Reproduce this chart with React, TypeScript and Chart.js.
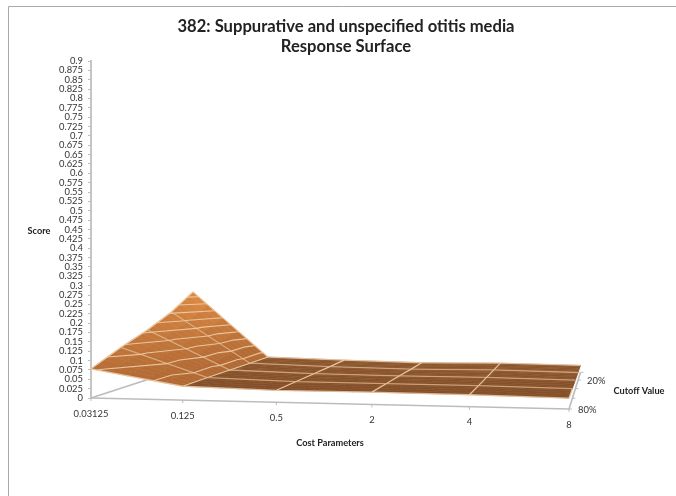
import React, { useEffect, useRef } from "react";
import { Chart, registerables } from "chart.js";

Chart.register(...registerables);

const titleLines = ["382: Suppurative and unspecified otitis media", "Response Surface"];
const costLabels = ["0.03125", "0.125", "0.5", "2", "4", "8"];
const cutoffLabels = ["80%", "", "", "20%", ""];
const cutoff80 = [0.078, 0.037, 0.032, 0.033, 0.032, 0.029];
const cutoff60 = [0.119, 0.037, 0.031, 0.031, 0.031, 0.028];
const cutoff40 = [0.157, 0.036, 0.03, 0.029, 0.03, 0.027];
const cutoff20 = [0.204, 0.035, 0.029, 0.026, 0.029, 0.026];
const cutoff0 = [0.2675, 0.034, 0.028, 0.024, 0.028, 0.0256];
const grid = [cutoff80, cutoff60, cutoff40, cutoff20, cutoff0];
const contourLevels = [0.05, 0.075, 0.1, 0.125, 0.15, 0.175, 0.2, 0.225, 0.25];

const FONT = "Lato, 'Open Sans', sans-serif";
const nI = costLabels.length - 1;
const nJ = grid.length - 1;

// Perspective floor of the 3D box, in data units of the x (0-5) and y (score) scales.
const c00 = [0, 0];
const c10 = [5, -0.0294];
const c01 = [1.067, 0.0885];
const hg = -0.05;
const hh = 0.235;
const ha = c10[0] * (1 + hg) - c00[0], hb = c01[0] * (1 + hh) - c00[0];
const hd = c10[1] * (1 + hg) - c00[1], he = c01[1] * (1 + hh) - c00[1];

function project(i: number, j: number, z: number) {
  const u = i / nI, v = j / nJ;
  const w = hg * u + hh * v + 1;
  const s = Math.pow((hg * u + 1) / w, 1.5);
  return {
    x: (ha * u + hb * v + c00[0]) / w,
    y: (hd * u + he * v + c00[1]) / w + z * s,
  };
}

function zAt(i: number, j: number) {
  const i0 = Math.min(Math.floor(i), nI - 1), j0 = Math.min(Math.floor(j), nJ - 1);
  const a = i - i0, b = j - j0;
  return (
    grid[j0][i0] * (1 - a) * (1 - b) +
    grid[j0][i0 + 1] * a * (1 - b) +
    grid[j0 + 1][i0] * (1 - a) * b +
    grid[j0 + 1][i0 + 1] * a * b
  );
}

function rowLine(j: number) {
  return grid[j].map((z, i) => project(i, j, z));
}
function colLine(i: number) {
  return grid.map((r, j) => project(i, j, r[i]));
}

function contourLine(level: number) {
  const pts: any[] = [];
  for (let j = 0; j < nJ; j++) {
    for (let i = 0; i < nI; i++) {
      const tris = [
        [[i, j], [i + 1, j], [i + 1, j + 1]],
        [[i, j], [i + 1, j + 1], [i, j + 1]],
      ];
      for (const t of tris) {
        const hits: number[][] = [];
        for (let k = 0; k < 3; k++) {
          const A = t[k], B = t[(k + 1) % 3];
          const za = grid[A[1]][A[0]], zb = grid[B[1]][B[0]];
          if ((za - level) * (zb - level) < 0) {
            const f = (level - za) / (zb - za);
            hits.push([A[0] + (B[0] - A[0]) * f, A[1] + (B[1] - A[1]) * f]);
          }
        }
        if (hits.length === 2) {
          pts.push(project(hits[0][0], hits[0][1], level));
          pts.push(project(hits[1][0], hits[1][1], level));
          pts.push({ x: NaN, y: NaN });
        }
      }
    }
  }
  return pts;
}

function mix(a: number[], b: number[], t: number) {
  const q = Math.max(0, Math.min(1, t));
  return `rgb(${a.map((v, k) => Math.round(v + (b[k] - v) * q)).join(",")})`;
}

const surfaceColor = (i: number, z: number, v: number) =>
  i < 1
    ? mix([178, 106, 52], [219, 137, 68], (z - 0.05) / 0.2)
    : mix([130, 78, 40], [140, 86, 44], v);

const surfacePlugin = {
  id: "surface",
  beforeDatasetsDraw(chart: any) {
    const { ctx, scales } = chart;
    const X = (p: any) => scales.x.getPixelForValue(p.x);
    const Y = (p: any) => scales.y.getPixelForValue(p.y);
    ctx.save();
    // floor edge on the left
    const a = project(0, 0, 0), b = project(0, nJ, 0);
    ctx.strokeStyle = "#bcbcbc";
    ctx.lineWidth = 1.6;
    ctx.beginPath();
    ctx.moveTo(X(a), Y(a));
    ctx.lineTo(X(b), Y(b));
    ctx.stroke();
    // filled mesh
    const N = 5;
    for (let j = nJ - 1; j >= 0; j--) {
      for (let i = 0; i < nI; i++) {
        for (let m = 0; m < N; m++) {
          for (let n = 0; n < N; n++) {
            const i0 = i + n / N, i1 = i + (n + 1) / N;
            const j0 = j + m / N, j1 = j + (m + 1) / N;
            const corners = [[i0, j0], [i1, j0], [i1, j1], [i0, j1]].map(([p, q]) =>
              project(p, q, zAt(p, q))
            );
            const col = surfaceColor(i, zAt((i0 + i1) / 2, (j0 + j1) / 2), (j0 + j1) / 2 / nJ);
            ctx.fillStyle = col;
            ctx.strokeStyle = col;
            ctx.lineWidth = 0.6;
            ctx.beginPath();
            corners.forEach((p, k) => (k ? ctx.lineTo(X(p), Y(p)) : ctx.moveTo(X(p), Y(p))));
            ctx.closePath();
            ctx.fill();
            ctx.stroke();
          }
        }
      }
    }
    ctx.restore();
  },
  afterDraw(chart: any) {
    const { ctx, scales, width, height } = chart;
    const X = (p: any) => scales.x.getPixelForValue(p.x);
    const Y = (p: any) => scales.y.getPixelForValue(p.y);
    ctx.save();
    // page frame
    ctx.strokeStyle = "#a8a8a8";
    ctx.lineWidth = 1;
    ctx.beginPath();
    ctx.moveTo(8.5, height);
    ctx.lineTo(8.5, 6.5);
    ctx.lineTo(width, 6.5);
    ctx.stroke();
    // front axis
    ctx.strokeStyle = "#bcbcbc";
    ctx.lineWidth = 1.6;
    const f0 = project(0, 0, 0), f1 = project(nI, 0, 0);
    ctx.beginPath();
    ctx.moveTo(X(f0), Y(f0));
    ctx.lineTo(X(f1), Y(f1));
    ctx.stroke();
    ctx.fillStyle = "#333";
    ctx.textAlign = "center";
    ctx.textBaseline = "middle";
    ctx.font = `9.4px ${FONT}`;
    ctx.lineWidth = 1;
    costLabels.forEach((lab, i) => {
      const p = project(i, 0, 0);
      ctx.beginPath();
      ctx.moveTo(X(p), Y(p));
      ctx.lineTo(X(p), Y(p) + 3);
      ctx.stroke();
      ctx.fillText(lab, X(p), Y(p) + 15.5);
    });
    // depth axis
    const d0 = project(nI, 0, 0), d1 = project(nI, nJ, 0);
    ctx.lineWidth = 1.6;
    ctx.beginPath();
    ctx.moveTo(X(d0), Y(d0));
    ctx.lineTo(X(d1), Y(d1));
    ctx.stroke();
    ctx.lineWidth = 1;
    ctx.textAlign = "left";
    cutoffLabels.forEach((lab, j) => {
      const p = project(nI, j, 0);
      ctx.beginPath();
      ctx.moveTo(X(p), Y(p));
      ctx.lineTo(X(p) + 3, Y(p));
      ctx.stroke();
      if (lab) ctx.fillText(lab, X(p) + 9, Y(p) + 0.5);
    });
    // titles
    ctx.fillStyle = "#222";
    ctx.textAlign = "center";
    ctx.font = `bold 16.6px ${FONT}`;
    ctx.fillText(titleLines[0], 346, 27);
    ctx.fillText(titleLines[1], 346, 47);
    ctx.font = `bold 9.2px ${FONT}`;
    ctx.fillText("Score", 39, 231);
    ctx.fillText("Cost Parameters", 330, 443);
    ctx.fillText("Cutoff Value", 639, 391);
    ctx.restore();
  },
};

const meshLine = { showLine: true, pointRadius: 0, clip: false, tension: 0 };

export default function App() {
  const ref = useRef<HTMLCanvasElement>(null);
  useEffect(() => {
    const datasets: any[] = [];
    contourLevels.forEach((lv) =>
      datasets.push({
        ...meshLine,
        label: `z ${lv}`,
        data: contourLine(lv),
        borderColor: "rgba(240,205,165,0.9)",
        borderWidth: 1.1,
        spanGaps: false,
      })
    );
    grid.forEach((_, j) =>
      datasets.push({
        ...meshLine,
        label: `row ${j}`,
        data: rowLine(j),
        borderColor: j === 0 || j === nJ ? "rgba(240,205,170,0.8)" : "rgba(225,185,145,0.75)",
        borderWidth: 1.3,
      })
    );
    costLabels.forEach((_, i) =>
      datasets.push({
        ...meshLine,
        label: `col ${i}`,
        data: colLine(i),
        borderColor: "rgba(240,205,165,0.95)",
        borderWidth: 1.2,
      })
    );
    const chart = new Chart(ref.current!, {
      type: "scatter",
      data: { datasets },
      plugins: [surfacePlugin],
      options: {
        animation: false,
        responsive: false,
        layout: { padding: { top: 61, right: 107, left: 0, bottom: 0 } },
        plugins: { legend: { display: false }, title: { display: false }, tooltip: { enabled: false } },
        scales: {
          x: {
            type: "linear",
            min: 0,
            max: 5,
            grid: { display: false },
            border: { display: false },
            ticks: { display: false },
            afterFit: (s: any) => {
              s.height = 98;
            },
          },
          y: {
            type: "linear",
            min: 0,
            max: 0.9,
            grid: { display: true, drawOnChartArea: false, drawTicks: true, tickLength: 3, color: "#bcbcbc" },
            border: { display: true, color: "#c4c4c4", width: 2 },
            afterBuildTicks: (s: any) => {
              s.ticks = Array.from({ length: 37 }, (_, k) => ({ value: k * 25 / 1000 }));
            },
            ticks: {
              autoSkip: false,
              padding: 5,
              color: "#333",
              font: { family: FONT, size: 9.4 },
              callback: (v: any) => String(Number(Number(v).toFixed(3))),
            },
            afterFit: (s: any) => {
              s.width = 91;
            },
          },
        },
      } as any,
    });
    return () => chart.destroy();
  }, []);
  return (
    <div style={{ position: "absolute", left: 0, top: 0, width: 676, height: 496, background: "#fff" }}>
      <canvas ref={ref} width={676} height={496} style={{ display: "block", filter: "blur(0.5px)" }} />
    </div>
  );
}
